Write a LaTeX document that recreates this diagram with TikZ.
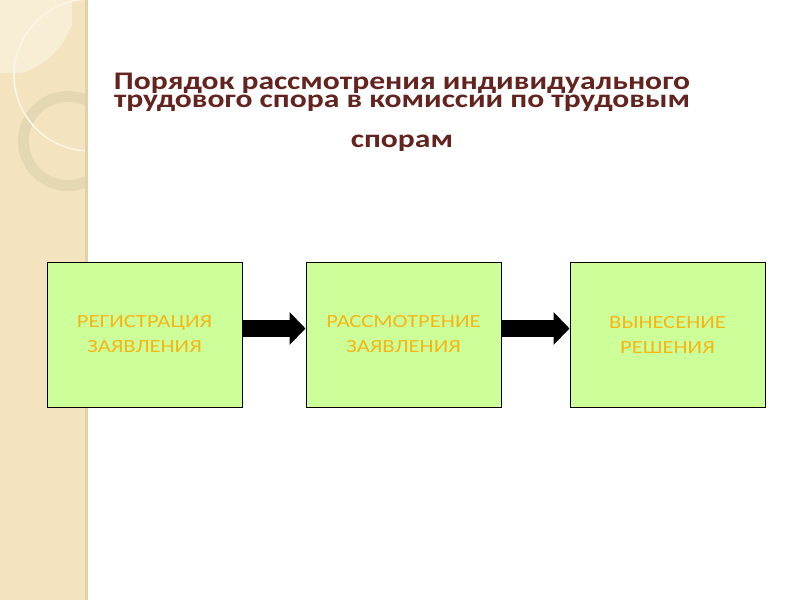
\documentclass[tikz,border=0pt]{standalone}
\usepackage{fontspec}
\setmainfont{Carlito}
\newfontfamily\titlefont[FakeStretch=1.25]{Carlito}
\newfontfamily\boxfont[FakeStretch=1.22]{Carlito}
\usetikzlibrary{arrows.meta,calc}
\definecolor{KTSBrown}{HTML}{632420}
\definecolor{KTSGreen}{HTML}{CCFF99}
\definecolor{KTSOrange}{HTML}{F7B614}
\definecolor{KTSBand}{HTML}{F3E3BE}
\definecolor{KTSLight}{HTML}{F8EED5}
\definecolor{KTSRing}{HTML}{E4D7B4}
\definecolor{KTSEdge}{HTML}{E2D2AA}

\begin{document}
\begin{tikzpicture}[
  stage/.style={rectangle,draw=black,line width=0.7pt,fill=KTSGreen,minimum width=4.875cm,minimum height=3.625cm,align=center,inner sep=0pt,text=KTSOrange,font=\boxfont\fontsize{13.2}{17.8}\selectfont},
  flow/.style={-{Triangle[length=4mm,width=8mm]},line width=4.25mm,draw=black}
]
\useasboundingbox (0,0) rectangle (20,-15);
% side band
\fill[KTSBand] (0,0) rectangle (2.2,-15);
\fill[KTSEdge] (2.12,0) rectangle (2.2,-15);
\begin{scope}
  \clip (0,0) rectangle (2.12,-15);
  \begin{scope}
    \clip (0,0) rectangle (1.8,-1.8);
    \fill[KTSLight] (0,0) circle (1.9);
  \end{scope}
  \fill[KTSRing,even odd rule] (1.7,-3.525) circle (1.25) (1.7,-3.525) circle (0.98);
  \draw[white!60!KTSBand,line width=1.2pt] (2.25,-1.875) circle (1.9);
\end{scope}

\node[font=\titlefont\bfseries\fontsize{18}{12.8}\selectfont,text=KTSBrown,align=center,anchor=base] (title) at (10.05,-3.675)
  {Порядок рассмотрения индивидуального\\трудового спора в комиссии по трудовым\\[15.6pt]спорам};

\node[stage] (reg) at (3.6125,-8.3625) {РЕГИСТРАЦИЯ\\ЗАЯВЛЕНИЯ};
\node[stage] (rass) at (10.0875,-8.3625) {РАССМОТРЕНИЕ\\ЗАЯВЛЕНИЯ};
\node[stage] (resh) at (16.6875,-8.3625) {ВЫНЕСЕНИЕ\\РЕШЕНИЯ};

\draw[flow] ($(reg.east)+(0,0.15)$) -- ($(rass.west)+(0,0.15)$);
\draw[flow] ($(rass.east)+(0,0.15)$) -- ($(resh.west)+(0,0.15)$);
\end{tikzpicture}
\end{document}
